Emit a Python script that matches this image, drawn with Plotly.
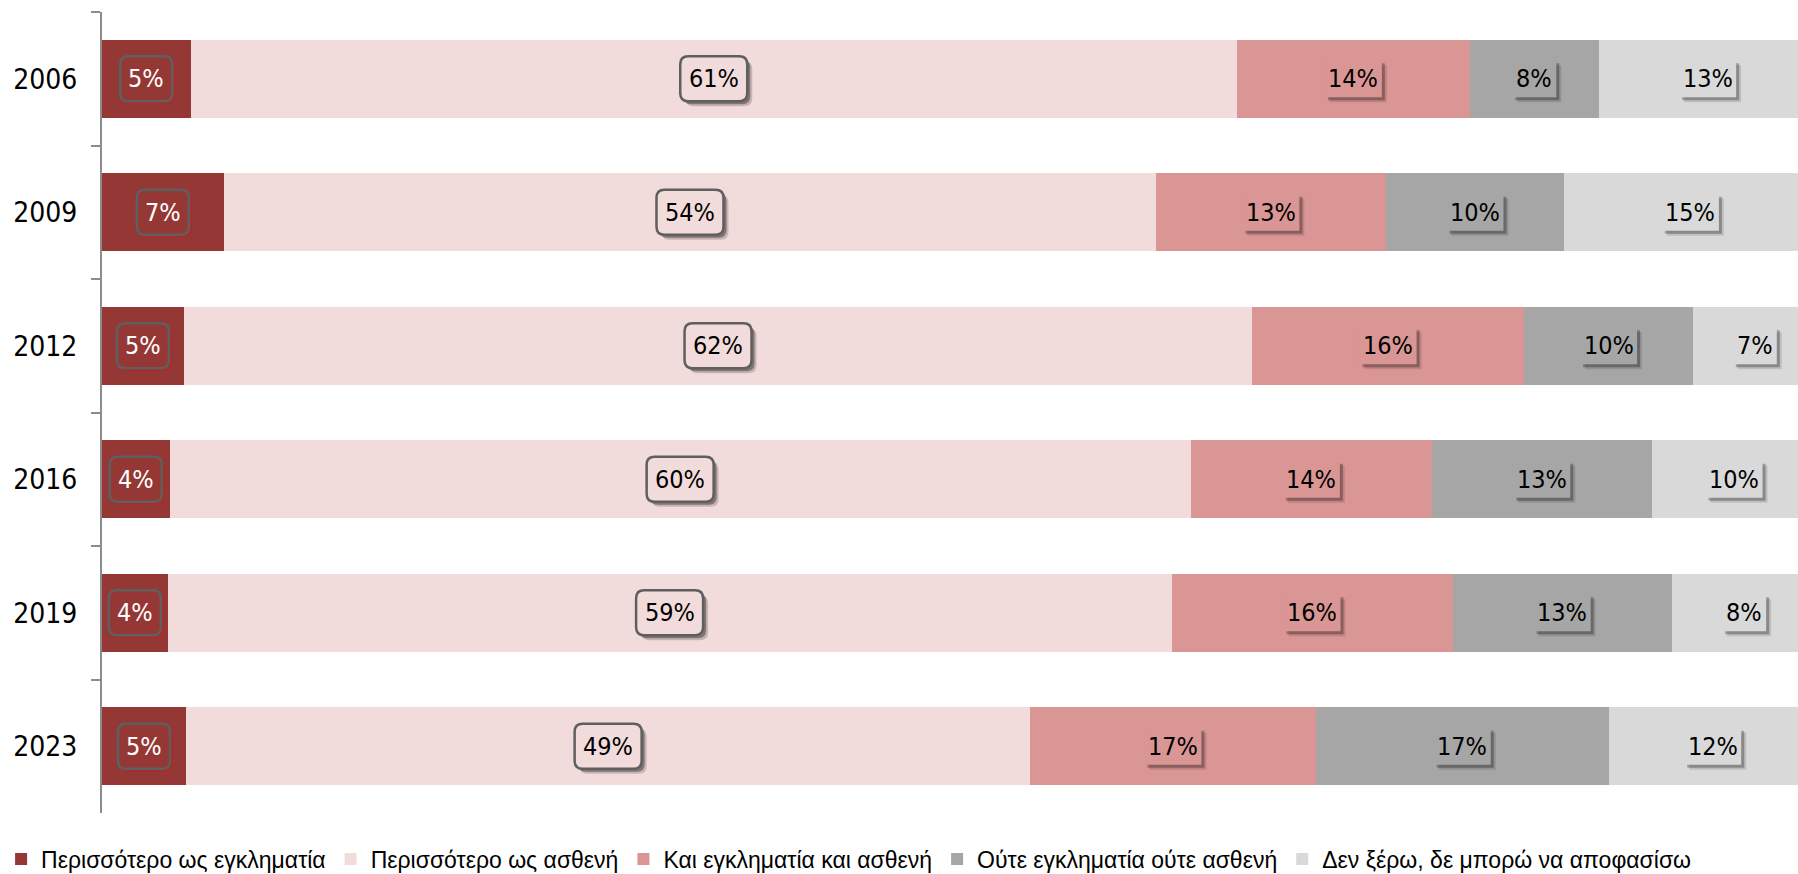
import plotly.graph_objects as go

# ---------------- data ----------------
years = ["2006", "2009", "2012", "2016", "2019", "2023"]
series_names = [
    "Περισσότερο ως εγκληματία",
    "Περισσότερο ως ασθενή",
    "Και εγκληματία και ασθενή",
    "Ούτε εγκληματία ούτε ασθενή",
    "Δεν ξέρω, δε μπορώ να αποφασίσω",
]
more_criminal = [5.17, 7.11, 4.78, 3.94, 3.83, 4.90]
more_patient = [61.02, 54.37, 62.30, 59.56, 58.55, 49.24]
both = [13.59, 13.39, 15.86, 14.07, 16.39, 16.64]
neither = [7.52, 10.42, 9.86, 12.81, 12.79, 17.11]
dont_know = [12.70, 14.71, 7.20, 9.62, 8.44, 12.11]

series_values = [more_criminal, more_patient, both, neither, dont_know]
colors = ["#953735", "#F2DCDB", "#D99694", "#A6A6A6", "#D9D9D9"]

# visible x-range (the 100% bar is slightly cropped on the right in the original)
x_max = 98.92

LABEL_FONT = "DejaVu Sans Condensed, DejaVu Sans, sans-serif"
TICK_FONT = "DejaVu Sans Condensed, DejaVu Sans, sans-serif"
LEGEND_FONT = "Liberation Sans, Arial, sans-serif"

fig = go.Figure()
for name, vals, col in zip(series_names, series_values, colors):
    fig.add_trace(go.Bar(
        y=years, x=vals, name=name, orientation="h",
        marker=dict(color=col, line=dict(width=0)),
        hoverinfo="x+y+name",
    ))


def rrect(w, h, r, dx=0.0, dy=0.0):
    x0, x1 = -w / 2 + dx, w / 2 + dx
    y0, y1 = -h / 2 + dy, h / 2 + dy
    return (f"M{x0 + r},{y0} L{x1 - r},{y0} Q{x1},{y0} {x1},{y0 + r} "
            f"L{x1},{y1 - r} Q{x1},{y1} {x1 - r},{y1} L{x0 + r},{y1} "
            f"Q{x0},{y1} {x0},{y1 - r} L{x0},{y0 + r} Q{x0},{y0} {x0 + r},{y0} Z")


shapes = []
annotations = []
for i, yr in enumerate(years):
    start = 0.0
    for s, vals in enumerate(series_values):
        v = vals[i]
        cx = start + v / 2.0
        start += v
        txt = f"{round(v)}%"
        n = len(txt)
        base = dict(type="path", xref="x", yref="y", xsizemode="pixel",
                    ysizemode="pixel", xanchor=cx, yanchor=i, layer="above")
        if s in (0, 1):
            w, h, r = 15 * n + 22, 45, 8
            if s == 0:
                shadow_cols = [("rgba(200,30,30,0.35)", 3), ("rgba(200,30,30,0.25)", 1.5)]
            else:
                shadow_cols = [("rgba(0,0,0,0.18)", 5), ("rgba(0,0,0,0.35)", 3)]
            for sc, off in shadow_cols:
                shapes.append(dict(base, path=rrect(w, h, r, off, -off),
                                   fillcolor=sc, line=dict(width=0)))
            shapes.append(dict(base, path=rrect(w, h, r), fillcolor=colors[s],
                               line=dict(color="#5f5f5f", width=2.5)))
        else:
            w, h = 13 * n + 18, 37
            for sc, off in [("rgba(0,0,0,0.12)", 5), ("rgba(0,0,0,0.28)", 3)]:
                shapes.append(dict(base, path=rrect(w, h, 0.5, off, -off),
                                   fillcolor=sc, line=dict(width=0)))
            shapes.append(dict(base, path=rrect(w, h, 0.5), fillcolor=colors[s],
                               line=dict(width=0)))
        annotations.append(dict(
            x=cx, y=i, xref="x", yref="y", text=txt, showarrow=False,
            font=dict(family=LABEL_FONT, size=25,
                      color="#ffffff" if s == 0 else "#000000"),
        ))

fig.update_layout(
    width=1798, height=874,
    margin=dict(l=102, r=0, t=12, b=61, pad=0, autoexpand=False),
    barmode="stack", bargap=0.415,
    plot_bgcolor="white", paper_bgcolor="white",
    shapes=shapes, annotations=annotations,
    showlegend=True,
    legend=dict(
        orientation="h", x=-0.0595, xanchor="left", y=-0.0575, yanchor="middle",
        font=dict(family=LEGEND_FONT, size=23, color="#000000"),
        bgcolor="rgba(0,0,0,0)", traceorder="normal",
    ),
    xaxis=dict(range=[0, x_max], visible=False, showgrid=False, zeroline=False),
    yaxis=dict(
        type="category", categoryorder="array", categoryarray=years,
        range=[len(years) - 0.5, -0.5], autorange=False,
        showline=True, linecolor="#8c8c8c", linewidth=2,
        ticks="outside", tickson="boundaries", ticklen=9, tickwidth=2,
        tickcolor="#8c8c8c", showgrid=False, zeroline=False,
        tickfont=dict(family=TICK_FONT, size=28, color="#000000"),
        ticklabelstandoff=17,
    ),
)

fig.write_html("out.html", config={"displayModeBar": False},
               post_script="document.body.style.margin='0';document.body.style.overflow='hidden';")
